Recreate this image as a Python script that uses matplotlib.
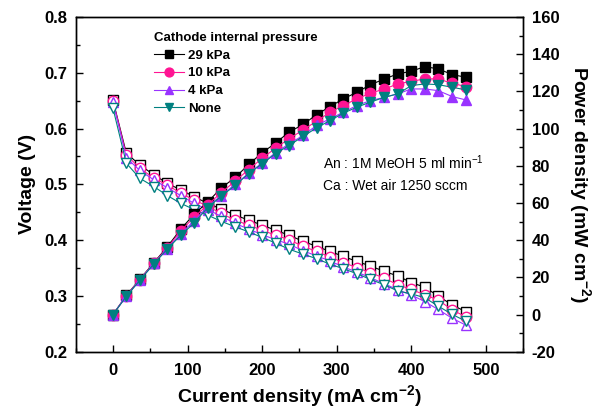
import numpy as np
import matplotlib
matplotlib.use("Agg")
import matplotlib.pyplot as plt
from matplotlib.ticker import MultipleLocator

plt.rcParams['font.family'] = ['Liberation Sans', 'DejaVu Sans']
plt.rcParams['font.weight'] = 'bold'
plt.rcParams['axes.labelweight'] = 'bold'
plt.rcParams['axes.unicode_minus'] = False
plt.rcParams['mathtext.fontset'] = 'custom'
plt.rcParams['mathtext.rm'] = 'Liberation Sans'
plt.rcParams['mathtext.bf'] = 'Liberation Sans:bold'
plt.rcParams['mathtext.default'] = 'regular'

# --- datos: densidad de corriente (mA cm-2) ---
current = [0, 18, 36, 55, 73, 91, 109, 127, 145, 164, 182, 200, 218, 236,
           255, 273, 291, 309, 327, 345, 364, 382, 400, 418, 436, 455, 473]

# voltaje (V)
v_29 = [0.651, 0.556, 0.535, 0.517, 0.502, 0.490, 0.478, 0.466, 0.456, 0.445,
        0.436, 0.427, 0.418, 0.409, 0.398, 0.389, 0.380, 0.371, 0.362, 0.354,
        0.344, 0.336, 0.324, 0.316, 0.300, 0.284, 0.272]
v_10 = [0.650, 0.553, 0.529, 0.511, 0.499, 0.484, 0.472, 0.461, 0.448, 0.436,
        0.427, 0.418, 0.409, 0.401, 0.389, 0.380, 0.370, 0.360, 0.351, 0.342,
        0.332, 0.320, 0.312, 0.302, 0.293, 0.275, 0.263]
v_4 = [0.648, 0.548, 0.525, 0.508, 0.494, 0.480, 0.466, 0.455, 0.443, 0.430,
       0.420, 0.410, 0.401, 0.393, 0.381, 0.372, 0.363, 0.352, 0.343, 0.333,
       0.322, 0.311, 0.302, 0.290, 0.276, 0.260, 0.248]
v_none = [0.637, 0.538, 0.511, 0.496, 0.480, 0.466, 0.455, 0.445, 0.434, 0.424,
          0.415, 0.405, 0.395, 0.384, 0.375, 0.367, 0.357, 0.349, 0.340, 0.330,
          0.320, 0.309, 0.304, 0.297, 0.282, 0.267, 0.255]

# densidad de potencia (mW cm-2)
p_29 = [0, 10.3, 19.0, 28.0, 36.5, 46.0, 54.0, 60.5, 68.0, 73.8, 80.7, 87.0,
        92.2, 98.1, 102.2, 107.5, 111.8, 116.0, 119.5, 123.5, 126.7, 129.4,
        130.8, 133.3, 132.1, 129.0, 127.6]
p_10 = [0, 10.2, 18.8, 27.8, 36.0, 45.0, 52.5, 59.0, 65.5, 71.8, 78.0, 84.0,
        89.5, 94.5, 99.3, 104.0, 108.8, 112.4, 116.0, 119.0, 121.3, 124.0,
        125.4, 126.7, 126.7, 124.3, 122.6]
p_4 = [0, 10.0, 18.6, 27.5, 35.5, 43.5, 50.5, 58.0, 64.0, 70.0, 76.0, 81.5,
       87.0, 91.8, 96.3, 101.7, 105.3, 108.8, 112.4, 115.0, 116.8, 118.7,
       121.3, 121.3, 120.4, 117.2, 115.4]
p_none = [0, 9.8, 18.4, 27.3, 35.3, 42.7, 49.3, 57.5, 63.6, 69.5, 75.8, 81.1,
          86.5, 90.9, 95.8, 100.4, 104.3, 108.3, 111.5, 114.2, 116.8, 118.7,
          123.1, 124.0, 123.6, 122.2, 120.8]

labels = ["29 kPa", "10 kPa", "4 kPa", "None"]
colors = ["black", "#ff1493", "#9933ff", "#008080"]
markers = ["s", "o", "^", "v"]
voltajes = [v_29, v_10, v_4, v_none]
potencias = [p_29, p_10, p_4, p_none]

fig = plt.figure(figsize=(6.0, 4.13), dpi=100)
ax = fig.add_axes([0.126, 0.148, 0.746, 0.811])
ax2 = ax.twinx()

# curvas de polarizacion (marcadores huecos)
for v, c, m in zip(voltajes, colors, markers):
    ax.plot(current, v, color=c, lw=0.8, marker=m, ms=7.5,
            mfc="white", mec=c, mew=1.0)

# curvas de potencia (marcadores llenos)
handles = []
for p, c, m, lab in zip(potencias, colors, markers, labels):
    h, = ax2.plot(current, p, color=c, lw=0.8, marker=m, ms=7.5,
                  mfc=c, mec=c, label=lab)
    handles.append(h)

ax.set_xlim(-50, 550)
ax.set_ylim(0.2, 0.8)
ax2.set_ylim(-20, 160)

ax.xaxis.set_major_locator(MultipleLocator(100))
ax.xaxis.set_minor_locator(MultipleLocator(50))
ax.yaxis.set_major_locator(MultipleLocator(0.1))
ax.yaxis.set_minor_locator(MultipleLocator(0.05))
ax2.yaxis.set_major_locator(MultipleLocator(20))
ax2.yaxis.set_minor_locator(MultipleLocator(10))
ax.yaxis.set_major_formatter(plt.FormatStrFormatter('%.1f'))

for a in (ax, ax2):
    a.tick_params(which='major', direction='in', length=5, width=1, labelsize=12)
    a.tick_params(which='minor', direction='in', length=3, width=1)
    for s in a.spines.values():
        s.set_linewidth(1.0)
ax.tick_params(axis='x', pad=8)
ax.tick_params(axis='y', pad=6)
ax2.tick_params(axis='y', pad=6)

ax.set_xlabel(r"Current density (mA cm$\mathbf{^{-2}}$)", fontsize=14, labelpad=4)
ax.set_ylabel("Voltage (V)", fontsize=14, labelpad=6)
ax2.set_ylabel(r"Power density (mW cm$\mathbf{^{-2}}$)", fontsize=14,
               rotation=270, labelpad=24)

leg = ax2.legend(handles=handles, title="Cathode internal pressure",
                 loc='upper left', bbox_to_anchor=(0.16, 0.975),
                 frameon=False, fontsize=9.5, title_fontsize=9.5,
                 handlelength=2.3, handletextpad=0.3, labelspacing=0.42,
                 borderpad=0, alignment='left', markerscale=0.85)
leg.get_title().set_fontweight('bold')

ax2.text(0.552, 0.565, "An : 1M MeOH 5 ml min$^{-1}$", transform=ax.transAxes,
         fontsize=10, fontweight='normal', va='center')
ax2.text(0.552, 0.495, "Ca : Wet air 1250 sccm", transform=ax.transAxes,
         fontsize=10, fontweight='normal', va='center')

fig.savefig("out.png", dpi=100)
